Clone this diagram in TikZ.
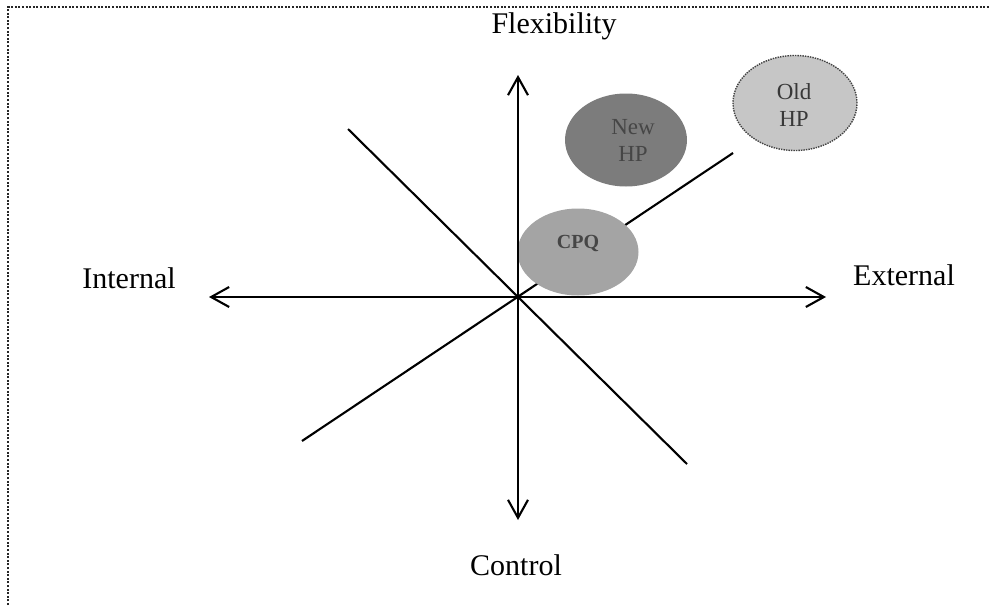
\documentclass[tikz,border=0pt]{standalone}
\usepackage{fontspec}
\setmainfont{Liberation Serif}
\usetikzlibrary{arrows.meta,shapes.geometric}

\definecolor{newfill}{HTML}{7C7C7C}
\definecolor{cpqfill}{HTML}{A4A4A4}
\definecolor{oldfill}{HTML}{C6C6C6}
\definecolor{blobtext}{HTML}{464646}

\tikzset{
  axisline/.style={line width=2.1pt, black},
  axisarrow/.style={axisline, -{Straight Barb[length=18pt, width=20pt, line width=2.1pt]}},
  axislabel/.style={font=\fontsize{30}{34}\selectfont, inner sep=0pt, anchor=base},
  blob/.style={ellipse, draw=none, inner sep=0pt},
  bloblabel/.style={font=\fontsize{23}{27}\selectfont, text=blobtext, align=center, inner sep=0pt},
  frameline/.style={line width=2pt, dash pattern=on 2pt off 1.6pt, black!85}
}

\begin{document}
\begin{tikzpicture}[x=1pt, y=-1pt]
  \useasboundingbox (0,0) rectangle (990,605);

  % dotted frame (open at right and bottom)
  \draw[frameline] (8,605) -- (8,7) -- (990,7);

  % axis end points
  \coordinate (O) at (518,297);
  \coordinate (top) at (518,75);
  \coordinate (bottom) at (518,520);
  \coordinate (left) at (209,297);
  \coordinate (right) at (826,297);
  \coordinate (d1a) at (348,129);
  \coordinate (d1b) at (687,464);
  \coordinate (d2a) at (302,441);
  \coordinate (d2b) at (733,153);

  % rising diagonal, partly hidden by the CPQ ellipse
  \draw[axisline] (d2a) -- (d2b);

  % ellipses
  \node[blob, fill=newfill, minimum width=122pt, minimum height=93pt] (newhp) at (626,140) {};
  \node[blob, fill=oldfill, draw=black!75, line width=1.4pt, dash pattern=on 1.4pt off 1.1pt,
        minimum width=124pt, minimum height=95pt] (oldhp) at (795,103) {};
  \node[blob, fill=cpqfill, minimum width=121pt, minimum height=87pt] (cpq) at (578,252) {};

  \node[bloblabel] (newhptext) at (633,140) {New\\HP};
  \node[bloblabel, text=black!78] (oldhptext) at (794,105) {Old\\HP};
  \node[bloblabel, font=\fontsize{20}{24}\selectfont\bfseries] (cpqtext) at (578,243) {CPQ};

  % axes
  \draw[axisline] (d1a) -- (d1b);
  \draw[axisarrow] (O) -- (top);
  \draw[axisarrow] (O) -- (bottom);
  \draw[axisarrow] (O) -- (left);
  \draw[axisarrow] (O) -- (right);

  % axis labels
  \node[axislabel] (flex) at (554,33) {Flexibility};
  \node[axislabel] (internal) at (129,288) {Internal};
  \node[axislabel] (external) at (904,285) {External};
  \node[axislabel] (control) at (516,575) {Control};
\end{tikzpicture}
\end{document}
